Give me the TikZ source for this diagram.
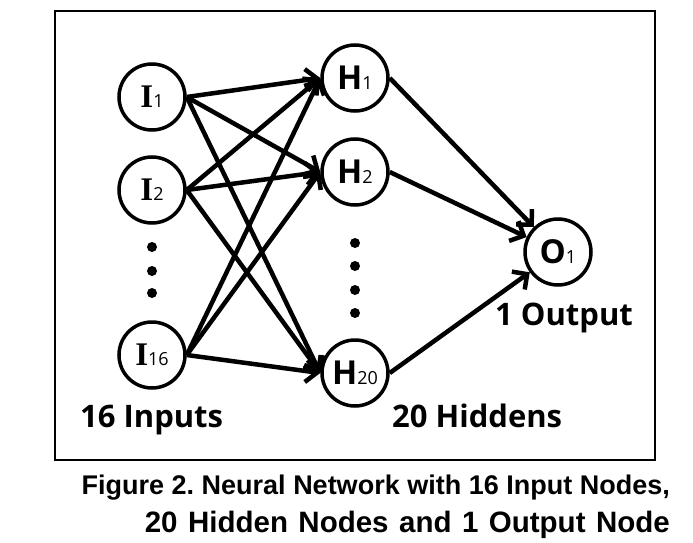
\documentclass[tikz,border=0pt]{standalone}
\usepackage{fontspec}
\setmainfont{Open Sans}
\newfontfamily\capfont{Liberation Sans}
\newfontfamily\letterfont{Liberation Serif}
\usetikzlibrary{arrows.meta}
\tikzset{
  neuron/.style={circle, draw, line width=3.5pt, minimum size=66pt, inner sep=0pt, font=\fontsize{33}{33}\selectfont\bfseries},
  conn/.style={line width=4.5pt, -{Straight Barb[length=11pt,width=22pt]}},
  lbl/.style={font=\fontsize{31}{31}\selectfont\bfseries, inner sep=0pt},
  captext/.style={font=\capfont\bfseries, inner sep=0pt},
  dotc/.style={fill, circle, inner sep=0pt, minimum size=10pt}
}
\newcommand{\sbs}[1]{{\fontsize{18}{18}\selectfont\mdseries #1}}
\begin{document}
\frenchspacing
\begin{tikzpicture}[x=1pt,y=-1pt]
\useasboundingbox (0,0) rectangle (693,543);
\draw[line width=2.5pt] (55,11) rectangle (655,460);
% input nodes
\node[neuron] (i1) at (152,97) {{\letterfont I}\sbs{1}};
\node[neuron] (i2) at (152,190) {{\letterfont I}\sbs{2}};
\node[neuron] (i16) at (152,355) {{\letterfont I}\sbs{16}};
% hidden nodes
\node[neuron] (h1) at (355,78) {H\sbs{1}};
\node[neuron] (h2) at (355,172) {H\sbs{2}};
\node[neuron] (h20) at (355,373) {H\sbs{20}};
% output node
\node[neuron] (o1) at (558,252) {O\sbs{1}};
% dots
\node[dotc] (di1) at (152,247) {};
\node[dotc] (di2) at (152,271) {};
\node[dotc] (di3) at (152,293) {};
\node[dotc] (dh1) at (355,243) {};
\node[dotc] (dh2) at (355,266) {};
\node[dotc] (dh3) at (355,290) {};
\node[dotc] (dh4) at (355,313) {};
% connections
\foreach \s in {i1,i2,i16}{
  \foreach \t in {h1,h2,h20}{
    \draw[conn] (\s.east) -- (\t.west);
  }
}
\foreach \s in {h1,h2,h20}{
  \draw[conn] (\s.east) -- (o1);
}
% labels
\node[lbl, anchor=base west] (linp) at (80,427) {16 Inputs};
\node[lbl, anchor=base west] (lhid) at (392,427) {20 Hiddens};
\node[lbl, anchor=base west] (lout) at (495,325) {1 Output};
% caption
\node[captext, anchor=base east, font=\fontsize{27}{27}\selectfont\capfont\bfseries] (c1) at (670,494) {Figure 2. Neural Network with 16 Input Nodes,};
\node[captext, anchor=base east, font=\fontsize{29.5}{29.5}\selectfont\capfont\bfseries] (c2) at (670,532) {\makebox[525pt][s]{20 Hidden Nodes and 1 Output Node}};
\end{tikzpicture}
\end{document}
